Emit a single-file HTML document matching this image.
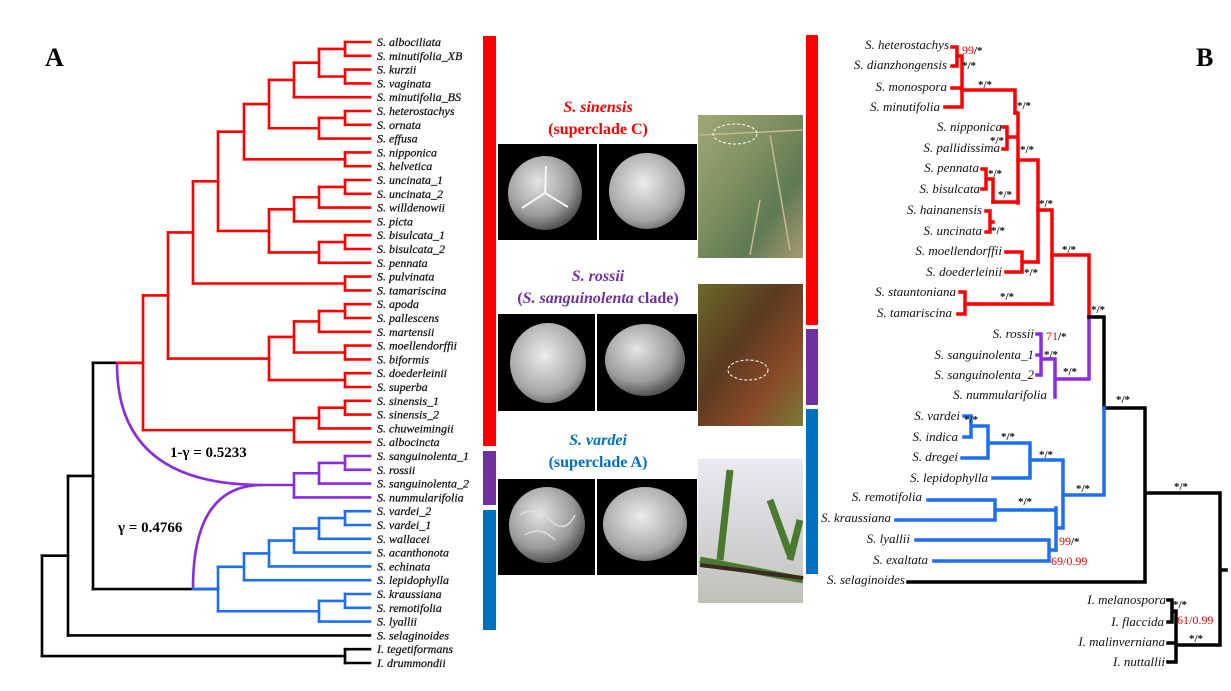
<!DOCTYPE html>
<html><head><meta charset="utf-8">
<style>
html,body{margin:0;padding:0;background:#fff;}
svg{display:block;}
.lt{font-family:"Liberation Serif",serif;font-style:italic;font-size:12px;fill:#111;stroke:#111;stroke-width:0.25;}
.rt{font-family:"Liberation Serif",serif;font-style:italic;font-size:13px;fill:#111;}
.s{font-family:"Liberation Serif",serif;font-size:11px;font-weight:bold;fill:#111;}
.sr{fill:#e00;font-weight:normal;font-size:12px;}
</style></head>
<body>
<svg id="sv" width="1231" height="691" viewBox="0 0 1231 691" xmlns="http://www.w3.org/2000/svg">
<defs>
<radialGradient id="g1" cx="40%" cy="35%" r="65%"><stop offset="0" stop-color="#e4e4e4"/><stop offset="0.7" stop-color="#9a9a9a"/><stop offset="1" stop-color="#555"/></radialGradient>
<radialGradient id="g2" cx="45%" cy="40%" r="65%"><stop offset="0" stop-color="#ececec"/><stop offset="0.75" stop-color="#a5a5a5"/><stop offset="1" stop-color="#666"/></radialGradient>
<linearGradient id="p1" x1="0" y1="0" x2="1" y2="1"><stop offset="0" stop-color="#a0a878"/><stop offset="0.4" stop-color="#7f9060"/><stop offset="0.7" stop-color="#5f7a55"/><stop offset="1" stop-color="#a89a70"/></linearGradient>
<linearGradient id="p2" x1="0" y1="0" x2="1" y2="1"><stop offset="0" stop-color="#6b6a2a"/><stop offset="0.4" stop-color="#5a3a20"/><stop offset="0.7" stop-color="#8a4a28"/><stop offset="1" stop-color="#7a7a3a"/></linearGradient>
<linearGradient id="p3" x1="0" y1="0" x2="0" y2="1"><stop offset="0" stop-color="#eceaee"/><stop offset="0.5" stop-color="#d5d5d8"/><stop offset="1" stop-color="#c0c0b8"/></linearGradient>
</defs>

<text x="45" y="66" font-family="Liberation Serif,serif" font-weight="bold" font-size="26">A</text>
<text x="1196" y="66" font-family="Liberation Serif,serif" font-weight="bold" font-size="26">B</text>

<g id="left" fill="none" stroke-width="2.6" stroke-linecap="square"></g>
<g id="ltext"></g>

<path d="M117,364 Q117,485 262,485" stroke="#8a2be2" stroke-width="2.6" fill="none"/>
<path d="M193,588 Q193,485 262,485" stroke="#8a2be2" stroke-width="2.6" fill="none"/>
<line x1="260" y1="485" x2="294" y2="485" stroke="#8a2be2" stroke-width="2.6"/>
<text x="170" y="457" font-family="Liberation Serif,serif" font-weight="bold" font-size="15">1-γ = 0.5233</text>
<text x="118" y="532" font-family="Liberation Serif,serif" font-weight="bold" font-size="15">γ = 0.4766</text>

<rect x="483" y="36" width="13" height="410" fill="#f00"/>
<rect x="483" y="451" width="13" height="54" fill="#7030a0"/>
<rect x="483" y="510" width="13" height="120" fill="#0070c0"/>
<rect x="806" y="35" width="12" height="290" fill="#f00"/>
<rect x="806" y="329" width="12" height="76" fill="#7030a0"/>
<rect x="806" y="409" width="12" height="165" fill="#0070c0"/>

<g font-family="Liberation Serif,serif" font-weight="bold" font-size="16" text-anchor="middle">
<text x="598" y="112" fill="#f00" font-style="italic">S. sinensis</text>
<text x="598" y="134" fill="#f00">(superclade  C)</text>
<text x="598" y="281" fill="#7030a0" font-style="italic">S. rossii</text>
<text x="598" y="303" fill="#7030a0">(<tspan font-style="italic">S. sanguinolenta</tspan> clade)</text>
<text x="598" y="445" fill="#0070c0" font-style="italic">S. vardei</text>
<text x="598" y="467" fill="#0070c0">(superclade A)</text>
</g>
<rect x="498" y="144" width="99" height="96" fill="#000"/>
<rect x="599" y="144" width="98" height="96" fill="#000"/>
<circle cx="545" cy="193" r="37" fill="url(#g1)"/>
<path d="M545,193 L546,166 M545,193 L522,208 M545,193 L568,207" stroke="#f4f4f4" stroke-width="2"/>
<circle cx="647" cy="191" r="38" fill="url(#g2)"/>
<rect x="498" y="314" width="97" height="97" fill="#000"/>
<rect x="597" y="314" width="100" height="97" fill="#000"/>
<ellipse cx="548" cy="363" rx="38" ry="40" fill="url(#g2)"/>
<ellipse cx="645" cy="360" rx="40" ry="36" fill="url(#g1)"/>
<rect x="498" y="479" width="97" height="96" fill="#000"/>
<rect x="597" y="479" width="100" height="96" fill="#000"/>
<circle cx="547" cy="525" r="38" fill="url(#g1)"/>
<path d="M520,515 Q535,505 550,520 T575,515 M525,535 Q540,525 555,540" stroke="#ddd" stroke-width="1.5" fill="none"/>
<ellipse cx="645" cy="524" rx="42" ry="37" fill="url(#g2)"/>
<rect x="698" y="115" width="105" height="143" fill="url(#p1)"/>
<path d="M700,135 L803,130 M770,135 L790,250 M760,200 L750,255" stroke="#c8b890" stroke-width="1.5"/>
<ellipse cx="735" cy="134" rx="22" ry="10" fill="none" stroke="#fff" stroke-dasharray="3 2"/>
<rect x="698" y="284" width="105" height="142" fill="url(#p2)"/>
<ellipse cx="748" cy="370" rx="20" ry="10" fill="none" stroke="#fff" stroke-dasharray="3 2"/>
<rect x="698" y="459" width="105" height="144" fill="url(#p3)"/>
<path d="M700,560 L803,580 M730,470 L720,560 M770,500 L790,555 M800,520 L790,560" stroke="#4a7a30" stroke-width="7"/>
<path d="M700,565 L803,578" stroke="#3a2a20" stroke-width="4"/>

<g stroke-width="3.5" fill="none" stroke-linecap="square">
<g stroke="#f00">
<path d="M952,47 H957 V66 H952"/>
<path d="M957,56 H962 M952,88 H962 M945,107 H962 M962,56 V107"/>
<path d="M962,90 H1015 V113"/>
<path d="M1003,127 H1007 V149 H1003 M1007,137 H1015"/>
<path d="M1018,113 V203 M1015,113 H1018"/>
<path d="M982,169 H986 V189 H982 M986,179 H993 V202"/>
<path d="M986,211 H990 V232 H986 M990,222 H993"/>
<path d="M993,202 H1018 M1018,160 H1038 V262"/>
<path d="M1006,252 H1022 V272 H1006 M1022,262 H1038"/>
<path d="M1038,210 H1052 V304"/>
<path d="M960,292 H965 V314 H958 M965,304 H1052"/>
<path d="M1052,255 H1089 V317"/>
</g>
<g stroke="#8a2be2">
<path d="M1037,334 H1041 V355 H1037 M1041,345 V375 H1037 M1041,359 H1055 V397 M1055,379 H1089 V317"/>
</g>
<g stroke="#000">
<path d="M1089,317 H1104 V408 M1104,408 H1145 V582 H908 M1145,493 H1220 V645 H1178 M1220,570 H1226"/>
<path d="M1168,600 H1172 V622 H1168 M1172,611 H1176 V662 H1168 M1168,643 H1176"/>
</g>
<g stroke="#1e6ff0">
<path d="M1104,408 V495 H1063"/>
<path d="M964,416 H971 V437 H964 M971,426 H988 V458 H962 M988,443 H1030 V478 H993 M1030,460 H1063 V528 H1056"/>
<path d="M928,500 H995 V520 H896 M995,510 H1056 V550 M1056,508 V550"/>
<path d="M916,540 H1049 V561 H934 M1049,550 H1056"/>
</g>
</g>

<g class="rt" text-anchor="end">
<text x="949" y="49">S. heterostachys</text>
<text x="947" y="69">S. dianzhongensis</text>
<text x="947" y="91">S. monospora</text>
<text x="940" y="111">S. minutifolia</text>
<text x="1002" y="131">S. nipponica</text>
<text x="1000" y="152">S. pallidissima</text>
<text x="979" y="172">S. pennata</text>
<text x="980" y="193">S. bisulcata</text>
<text x="982" y="214">S. hainanensis</text>
<text x="982" y="235">S. uncinata</text>
<text x="1002" y="255">S. moellendorffii</text>
<text x="1002" y="276">S. doederleinii</text>
<text x="956" y="296">S. stauntoniana</text>
<text x="952" y="317">S. tamariscina</text>
<text x="1034" y="338">S. rossii</text>
<text x="1034" y="359">S. sanguinolenta_1</text>
<text x="1034" y="379">S. sanguinolenta_2</text>
<text x="1047" y="399">S. nummularifolia</text>
<text x="960" y="420">S. vardei</text>
<text x="958" y="441">S. indica</text>
<text x="958" y="461">S. dregei</text>
<text x="988" y="482">S. lepidophylla</text>
<text x="922" y="501">S. remotifolia</text>
<text x="891" y="522">S. kraussiana</text>
<text x="910" y="543">S. lyallii</text>
<text x="928" y="564">S. exaltata</text>
<text x="905" y="584">S. selaginoides</text>
<text x="1166" y="604">I. melanospora</text>
<text x="1164" y="626">I. flaccida</text>
<text x="1165" y="646">I. malinverniana</text>
<text x="1165" y="666">I. nuttallii</text>
</g>
<g class="s">
<text x="962" y="54"><tspan class="sr">99</tspan>/*</text>
<text x="962" y="69">*/*</text>
<text x="978" y="88">*/*</text>
<text x="1017" y="109">*/*</text>
<text x="990" y="144">*/*</text>
<text x="1020" y="153">*/*</text>
<text x="988" y="177">*/*</text>
<text x="998" y="198">*/*</text>
<text x="991" y="234">*/*</text>
<text x="1039" y="207">*/*</text>
<text x="1024" y="276">*/*</text>
<text x="1062" y="253">*/*</text>
<text x="1000" y="300">*/*</text>
<text x="1091" y="313">*/*</text>
<text x="1046" y="340"><tspan class="sr">71</tspan>/*</text>
<text x="1044" y="358">*/*</text>
<text x="1063" y="375">*/*</text>
<text x="1116" y="403">*/*</text>
<text x="964" y="423">*/*</text>
<text x="1001" y="440">*/*</text>
<text x="1039" y="458">*/*</text>
<text x="1076" y="492">*/*</text>
<text x="1018" y="505">*/*</text>
<text x="1059" y="545"><tspan class="sr">99</tspan>/*</text>
<text x="1051" y="565" fill="#e00" font-weight="normal" font-size="12">69/0.99</text>
<text x="1174" y="490">*/*</text>
<text x="1173" y="608">*/*</text>
<text x="1177" y="624" fill="#e00" font-weight="normal" font-size="12">61/0.99</text>
<text x="1189" y="642">*/*</text>
</g>

<script>
(function(){
var NS="http://www.w3.org/2000/svg";
var g=document.getElementById('left'),tg=document.getElementById('ltext');
var names=["S. albociliata","S. minutifolia_XB","S. kurzii","S. vaginata","S. minutifolia_BS","S. heterostachys","S. ornata","S. effusa","S. nipponica","S. helvetica","S. uncinata_1","S. uncinata_2","S. willdenowii","S. picta","S. bisulcata_1","S. bisulcata_2","S. pennata","S. pulvinata","S. tamariscina","S. apoda","S. pallescens","S. martensii","S. moellendorffii","S. biformis","S. doederleinii","S. superba","S. sinensis_1","S. sinensis_2","S. chuweimingii","S. albocincta","S. sanguinolenta_1","S. rossii","S. sanguinolenta_2","S. nummularifolia","S. vardei_2","S. vardei_1","S. wallacei","S. acanthonota","S. echinata","S. lepidophylla","S. kraussiana","S. remotifolia","S. lyallii","S. selaginoides","I. tegetiformans","I. drummondii"];
function ys(i){return 42+13.8*(i-1);}
function N(x,c,col){return {x:x,c:c,col:col};}
function line(x1,y1,x2,y2,col){var l=document.createElementNS(NS,'line');l.setAttribute('x1',x1);l.setAttribute('y1',y1);l.setAttribute('x2',x2);l.setAttribute('y2',y2);l.setAttribute('stroke',col);g.appendChild(l);}
function lay(n){if(typeof n==='number')return {x:370,y:ys(n)};var ps=n.c.map(lay);n.ps=ps;n.y=(ps[0].y+ps[ps.length-1].y)/2;return {x:n.x,y:n.y};}
function draw(n,col){if(typeof n==='number')return;col=n.col||col;n.c.forEach(function(ch,i){var p=n.ps[i];draw(ch,col);line(n.x,p.y,p.x,p.y,col);});line(n.x,n.ps[0].y,n.x,n.ps[n.ps.length-1].y,col);}
var R='#f00',P='#8a2be2',B='#1e6ff0',K='#000';
var red=N(143,[N(168,[N(193,[N(218,[N(244,[N(269,[N(294,[N(319,[N(345,[1,2]),N(345,[3,4])]),5]),N(319,[N(345,[6,7]),8])]),N(345,[9,10])]),N(269,[N(294,[N(319,[N(345,[11,12]),13]),14]),N(319,[N(345,[15,16]),17])])]),N(345,[18,19])]),N(269,[N(294,[N(319,[N(345,[20,21]),22]),N(345,[23,24])]),N(345,[25,26])])]),N(294,[N(319,[N(345,[27,28]),29]),30])],R);
var blue=N(218,[N(244,[N(269,[N(294,[N(319,[N(345,[35,36]),37]),38]),39]),40]),N(319,[N(345,[41,42]),43])],B);
var purp=N(294,[N(319,[N(345,[31,32]),33]),34],P);
var root=N(42,[N(68,[N(93,[red,blue]),44]),N(345,[45,46])],K);
lay(root);lay(purp);
draw(root,K);draw(purp,P);
line(117,red.y,143,red.y,R);line(193,blue.y,218,blue.y,B);
names.forEach(function(s,i){var t=document.createElementNS(NS,'text');t.setAttribute('x',377);t.setAttribute('y',ys(i+1)+4);t.setAttribute('class','lt');t.textContent=s;tg.appendChild(t);});
})();
</script>
</svg>
</body></html>
